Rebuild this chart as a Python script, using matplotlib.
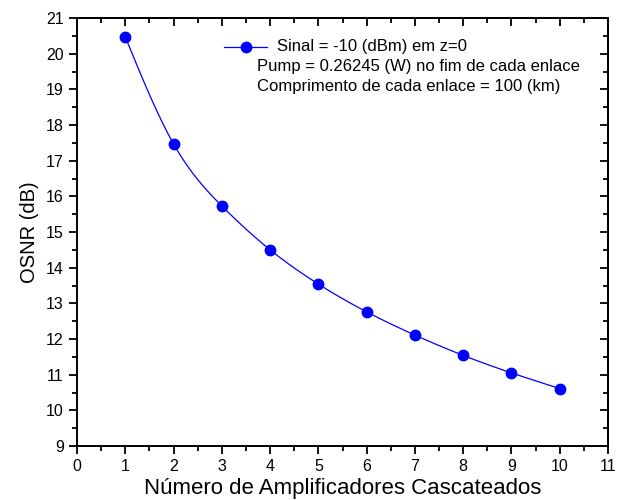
import numpy as np
import matplotlib
matplotlib.use("Agg")
import matplotlib.pyplot as plt
from matplotlib.ticker import MultipleLocator
from matplotlib.lines import Line2D

plt.rcParams['font.family'] = ['Liberation Sans', 'DejaVu Sans']

# dados
n_amp = [1, 2, 3, 4, 5, 6, 7, 8, 9, 10]
osnr = [20.47, 17.47, 15.73, 14.50, 13.54, 12.76, 12.11, 11.54, 11.05, 10.61]

legend_lines = ["Sinal = -10 (dBm) em z=0",
                "Pump = 0.26245 (W) no fim de cada enlace",
                "Comprimento de cada enlace = 100 (km)"]


def natural_spline(x, y, npts=300):
    # spline cubica natural so para desenhar a curva suave
    x = np.asarray(x, float)
    y = np.asarray(y, float)
    n = len(x)
    h = np.diff(x)
    A = np.zeros((n, n))
    b = np.zeros(n)
    A[0, 0] = A[-1, -1] = 1
    for i in range(1, n - 1):
        A[i, i - 1] = h[i - 1]
        A[i, i] = 2 * (h[i - 1] + h[i])
        A[i, i + 1] = h[i]
        b[i] = 3 * ((y[i + 1] - y[i]) / h[i] - (y[i] - y[i - 1]) / h[i - 1])
    c = np.linalg.solve(A, b)
    xs = np.linspace(x[0], x[-1], npts)
    idx = np.clip(np.searchsorted(x, xs) - 1, 0, n - 2)
    dx = xs - x[idx]
    bb = (y[idx + 1] - y[idx]) / h[idx] - h[idx] * (2 * c[idx] + c[idx + 1]) / 3
    dd = (c[idx + 1] - c[idx]) / (3 * h[idx])
    ys = y[idx] + bb * dx + c[idx] * dx**2 + dd * dx**3
    return xs, ys


fig = plt.figure(figsize=(6.25, 5), dpi=100)
ax = fig.add_axes([0.1232, 0.108, 0.8496, 0.856])

xs, ys = natural_spline(n_amp, osnr)
ax.plot(xs, ys, color='#0000ff', lw=0.9)
ax.plot(n_amp, osnr, 'o', color='#0000ff', ms=7.5)

ax.set_xlim(0, 11)
ax.set_ylim(9, 21)
ax.xaxis.set_major_locator(MultipleLocator(1))
ax.xaxis.set_minor_locator(MultipleLocator(0.5))
ax.yaxis.set_major_locator(MultipleLocator(1))
ax.yaxis.set_minor_locator(MultipleLocator(0.5))

ax.tick_params(which='both', direction='out', top=False, right=False,
               labelsize=11.5, width=1.3)
ax.tick_params(which='major', length=6)
ax.tick_params(which='minor', length=3.5)

# marcas internas no topo e a direita
sec_x = ax.secondary_xaxis('top')
sec_x.xaxis.set_major_locator(MultipleLocator(1))
sec_x.xaxis.set_minor_locator(MultipleLocator(0.5))
sec_x.tick_params(which='both', direction='in', labeltop=False, width=1.3)
sec_x.tick_params(which='major', length=6)
sec_x.tick_params(which='minor', length=3.5)
sec_y = ax.secondary_yaxis('right')
sec_y.yaxis.set_major_locator(MultipleLocator(1))
sec_y.yaxis.set_minor_locator(MultipleLocator(0.5))
sec_y.tick_params(which='both', direction='in', labelright=False, width=1.3)
sec_y.tick_params(which='major', length=6)
sec_y.tick_params(which='minor', length=3.5)
for sp in ax.spines.values():
    sp.set_linewidth(1.4)
sec_x.spines['top'].set_linewidth(1.4)
sec_y.spines['right'].set_linewidth(1.4)

ax.set_xlabel("Número de Amplificadores Cascateados", fontsize=16, labelpad=3)
ax.set_ylabel("OSNR (dB)", fontsize=14.5, labelpad=5)

# legenda
ax.add_line(Line2D([3.05, 3.94], [20.19, 20.19], color='#0000ff', lw=0.9))
ax.plot([3.5], [20.19], 'o', color='#0000ff', ms=7.5)
ax.text(4.14, 20.19, legend_lines[0], fontsize=12, va='center')
ax.text(3.73, 19.63, legend_lines[1], fontsize=12, va='center')
ax.text(3.73, 19.07, legend_lines[2], fontsize=12, va='center')

fig.savefig("out.png", dpi=100)
